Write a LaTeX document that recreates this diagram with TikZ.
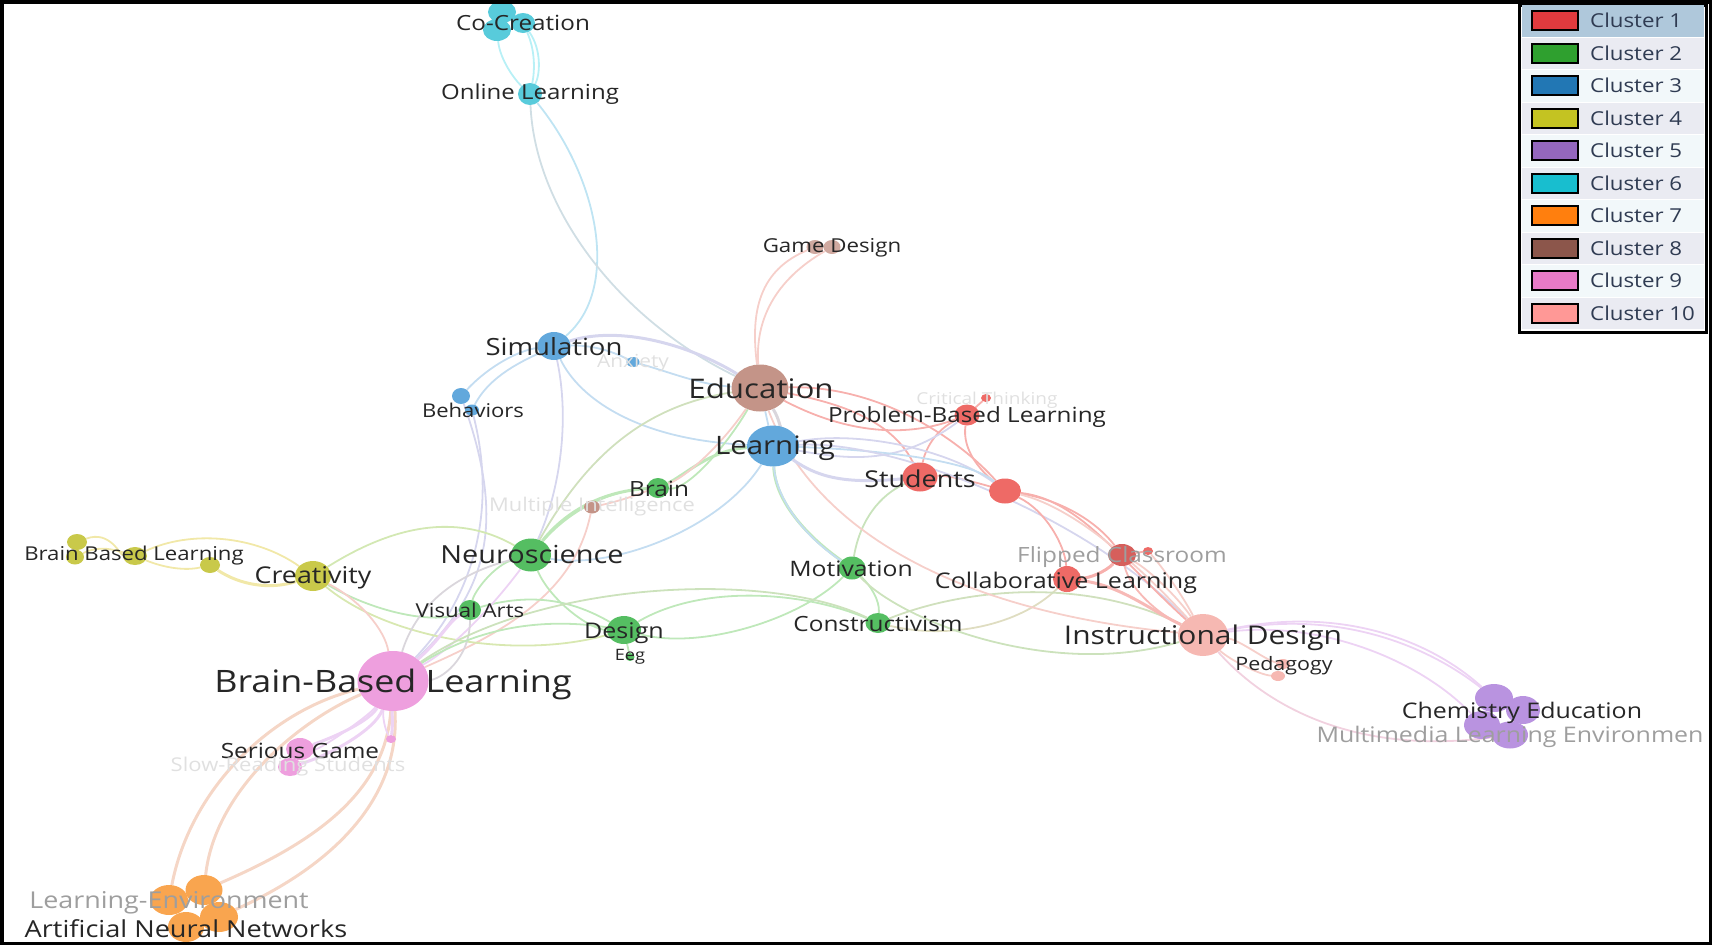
\documentclass[tikz,border=0pt]{standalone}
\usepackage{fontspec}
\setmainfont[FakeStretch=1.16]{Open Sans}
\usetikzlibrary{shapes.geometric}
\usetikzlibrary{backgrounds}
\definecolor{cred}{HTML}{EE6A66}
\definecolor{cgreen}{HTML}{55BE62}
\definecolor{cblue}{HTML}{62A8DC}
\definecolor{cyellow}{HTML}{C9C94A}
\definecolor{cpurple}{HTML}{B993E0}
\definecolor{ccyan}{HTML}{58CBDB}
\definecolor{corange}{HTML}{F9A54F}
\definecolor{cbrown}{HTML}{C49488}
\definecolor{cpink}{HTML}{EE9FDE}
\definecolor{csalmon}{HTML}{F6B8B2}
\definecolor{lpink}{HTML}{F6CFCA}
\definecolor{lred}{HTML}{F7B0AD}
\definecolor{llilac}{HTML}{EDD3F4}
\definecolor{lblue}{HTML}{C4DDF1}
\definecolor{lviolet}{HTML}{D6D6EE}
\definecolor{lcyan}{HTML}{B8F0F6}
\definecolor{lgreen}{HTML}{BFE8BA}
\definecolor{lyellow}{HTML}{F1E8A8}
\definecolor{ltan}{HTML}{E0D8C0}
\definecolor{lgrey}{HTML}{DAD6DC}
\definecolor{lorange}{HTML}{F5D6C6}
\definecolor{legtext}{HTML}{2F3B52}
\newcommand{\vnode}[5]{\node(#1)[vertex,fill=#5,minimum width=#3pt,minimum height=#4pt]at(#2){}}
\newcommand{\slabel}[5][lbl]{\node(#2)[#1,font=\fontsize{#4}{#4}\selectfont]at(#3){#5}}

\begin{document}
\begin{tikzpicture}[
        x=1pt,y=-1pt,
        vertex/.style={ellipse,inner sep=0pt,draw=none},
        lbl/.style={inner sep=0pt,text=black!85},
        lblgrey/.style={inner sep=0pt,text=black!38},
        lblfaint/.style={inner sep=0pt,text=black!12},
        edge/.style={line width=1.8pt},
        fatedge/.style={line width=3pt}
      ]
      \useasboundingbox (0,0) rectangle (1712,945);
      % nodes
      \vnode{co1}{502,12}{28}{22}{ccyan};
      \vnode{co2}{497,30}{28}{22}{ccyan};
      \vnode{co3}{523,23}{24}{20}{ccyan};
      \vnode{online}{530,94}{24}{22}{ccyan};
      \vnode{game1}{815,247}{17}{14}{cbrown!80!white};
      \vnode{game2}{832,247}{17}{14}{cbrown!80!white};
      \vnode{edu}{760,388}{57}{47}{cbrown};
      \vnode{lrn}{773,446}{52}{41}{cblue};
      \vnode{sim}{554,346}{33}{28}{cblue};
      \vnode{anx}{633,362}{13}{10}{cblue};
      \vnode{beh1}{461,396}{18}{16}{cblue};
      \vnode{beh2}{472,410}{14}{11}{cblue};
      \vnode{stud}{920,477}{35}{29}{cred};
      \vnode{redx}{1005,491}{32}{25}{cred};
      \vnode{pbl}{967,415}{25}{21}{cred};
      \vnode{crit}{986,398}{10}{8}{cred};
      \vnode{flip}{1122,555}{28}{22}{cred!90!black};
      \vnode{flipb}{1148,551}{10}{8}{cred};
      \vnode{collab}{1067,579}{28}{26}{cred};
      \vnode{instr}{1203,635}{50}{42}{csalmon};
      \vnode{ped1}{1283,664}{14}{10}{csalmon};
      \vnode{ped2}{1278,676}{14}{10}{csalmon};
      \vnode{chem1}{1494,698}{38}{28}{cpurple};
      \vnode{chem2}{1523,710}{34}{28}{cpurple};
      \vnode{chem3}{1482,725}{36}{28}{cpurple};
      \vnode{chem4}{1510,735}{36}{27}{cpurple};
      \vnode{bb1}{77,542}{20}{16}{cyellow};
      \vnode{bb2}{75,557}{18}{15}{cyellow};
      \vnode{bb3}{135,556}{24}{18}{cyellow};
      \vnode{bb4}{210,565}{20}{16}{cyellow};
      \vnode{creat}{313,576}{36}{30}{cyellow};
      \vnode{neuro}{531,555}{40}{33}{cgreen};
      \vnode{brain}{658,488}{22}{20}{cgreen};
      \vnode{mi}{592,507}{16}{13}{cbrown};
      \vnode{va}{470,610}{22}{20}{cgreen};
      \vnode{design}{624,630}{34}{28}{cgreen};
      \vnode{eeg}{630,657}{9}{8}{cgreen};
      \vnode{motiv}{852,568}{27}{23}{cgreen};
      \vnode{constr}{878,623}{25}{20}{cgreen};
      \vnode{bbl}{393,681}{71}{60}{cpink};
      \vnode{ser1}{300,749}{28}{22}{cpink};
      \vnode{ser2}{290,767}{24}{18}{cpink};
      \vnode{ser3}{391,739}{10}{8}{cpink};
      \vnode{or1}{169,900}{38}{30}{corange};
      \vnode{or2}{204,890}{37}{30}{corange};
      \vnode{or3}{219,917}{38}{30}{corange};
      \vnode{or4}{186,927}{36}{30}{corange};
      % connectors
      \begin{scope}[on background layer]
        \draw[edge,lcyan] (co2) .. controls (500,60) and (515,80) .. (online);
        \draw[edge,lcyan] (co3) .. controls (535,50) and (535,70) .. (online);
        \draw[edge,lcyan] (co3) .. controls (542,50) and (540,75) .. (online);
        \draw[edge,lcyan!40!lblue] (online) .. controls (600,180) and (620,290) .. (sim);
        \draw[edge,lcyan!30!lgrey] (online) .. controls (535,210) and (620,320) .. (edu);
        \draw[fatedge,lviolet] (sim) .. controls (620,325) and (690,345) .. (edu);
        \draw[edge,lblue] (sim) .. controls (580,400) and (640,440) .. (lrn);
        \draw[edge,lviolet] (sim) .. controls (570,420) and (560,490) .. (neuro);
        \draw[edge,lblue] (sim) .. controls (520,350) and (490,365) .. (beh1);
        \draw[edge,lblue] (sim) .. controls (525,360) and (490,375) .. (beh2);
        \draw[edge,lblue] (sim) .. controls (590,345) and (610,350) .. (anx);
        \draw[edge,lblue] (anx) .. controls (670,372) and (700,385) .. (edu);
        \draw[edge,lviolet] (beh1) .. controls (505,520) and (490,590) .. (bbl);
        \draw[edge,lviolet] (beh2) .. controls (495,500) and (480,590) .. (bbl);
        \draw[edge,lblue] (lrn) .. controls (720,530) and (610,570) .. (neuro);
        \draw[edge,lgreen] (neuro) .. controls (570,510) and (610,490) .. (brain);
        \draw[fatedge,lgreen] (neuro) .. controls (575,500) and (620,490) .. (brain);
        \draw[fatedge,lgreen] (brain) .. controls (685,475) and (710,450) .. (lrn);
        \draw[edge,lgreen] (brain) .. controls (690,490) and (730,440) .. (edu);
        \draw[edge,lpink] (brain) .. controls (690,475) and (725,440) .. (edu);
        \draw[edge,lpink] (mi) .. controls (625,500) and (650,490) .. (brain);
        \draw[edge,lpink] (mi) .. controls (575,590) and (510,630) .. (bbl);
        \draw[edge,lgreen!50!ltan] (neuro) .. controls (590,450) and (650,405) .. (edu);
        \draw[edge,lgreen!60!lyellow] (creat) .. controls (410,515) and (470,520) .. (neuro);
        \draw[edge,lgreen!50!lyellow] (creat) .. controls (390,640) and (520,660) .. (design);
        \draw[edge,lgreen] (creat) .. controls (370,610) and (430,625) .. (va);
        \draw[edge,lpink] (creat) .. controls (360,600) and (385,630) .. (bbl);
        \draw[edge,lgreen] (neuro) .. controls (495,565) and (475,590) .. (va);
        \draw[edge,lgreen] (neuro) .. controls (550,600) and (590,630) .. (design);
        \draw[edge,lgreen] (va) .. controls (540,590) and (580,605) .. (design);
        \draw[edge,lgrey] (neuro) .. controls (450,575) and (415,610) .. (bbl);
        \draw[edge,llilac] (neuro) .. controls (490,610) and (450,650) .. (bbl);
        \draw[fatedge,llilac] (va) .. controls (450,620) and (440,640) .. (bbl);
        \draw[edge,lgrey] (va) .. controls (470,660) and (440,680) .. (bbl);
        \draw[edge,lgreen] (design) .. controls (700,650) and (800,620) .. (motiv);
        \draw[edge,lgreen] (design) .. controls (700,585) and (800,590) .. (constr);
        \draw[edge,lgreen!60!ltan] (bbl) .. controls (540,580) and (770,570) .. (constr);
        \draw[edge,lgreen] (bbl) .. controls (490,620) and (560,620) .. (design);
        \draw[edge,lgreen] (design) -- (eeg);
        \draw[edge,lgreen] (motiv) .. controls (870,585) and (880,600) .. (constr);
        \draw[fatedge,lgreen] (lrn) .. controls (775,500) and (805,535) .. (motiv);
        \draw[edge,lblue] (lrn) .. controls (775,490) and (795,530) .. (motiv);
        \draw[edge,lgreen!70!ltan] (stud) .. controls (880,495) and (860,520) .. (motiv);
        \draw[edge,lgreen!40!lorange] (constr) .. controls (950,640) and (1020,625) .. (collab);
        \draw[edge,lgreen!50!ltan] (constr) .. controls (960,590) and (1080,575) .. (instr);
        \draw[edge,lgreen!60!ltan] (motiv) .. controls (900,620) and (1050,680) .. (instr);
        \draw[edge,lpink] (edu) .. controls (750,310) and (760,270) .. (game1);
        \draw[edge,lpink] (edu) .. controls (755,320) and (775,280) .. (game2);
        \draw[edge,lred] (edu) .. controls (840,430) and (900,440) .. (pbl);
        \draw[edge,lred] (edu) .. controls (850,405) and (895,425) .. (stud);
        \draw[edge,lred] (edu) .. controls (880,385) and (960,440) .. (redx);
        \draw[edge,lpink] (edu) .. controls (810,520) and (940,610) .. (instr);
        \draw[fatedge,lgrey] (edu) .. controls (780,420) and (780,430) .. (lrn);
        \draw[edge,lblue] (edu) -- (lrn);
        \draw[edge,lred] (pbl) .. controls (935,430) and (925,450) .. (stud);
        \draw[edge,lviolet] (pbl) .. controls (900,465) and (850,460) .. (lrn);
        \draw[edge,lred] (crit) -- (pbl);
        \draw[edge,lred] (pbl) .. controls (962,450) and (980,470) .. (redx);
        \draw[edge,lred] (stud) .. controls (950,475) and (985,485) .. (redx);
        \draw[fatedge,lviolet] (lrn) .. controls (815,475) and (840,485) .. (stud);
        \draw[edge,lviolet] (lrn) .. controls (860,430) and (950,450) .. (redx);
        \draw[edge,lblue] (lrn) .. controls (880,450) and (970,460) .. (redx);
        \draw[edge,lviolet] (lrn) .. controls (900,440) and (1090,520) .. (instr);
        \draw[edge,lred] (redx) .. controls (1045,510) and (1065,545) .. (collab);
        \draw[edge,lred] (redx) .. controls (1060,500) and (1095,520) .. (flip);
        \draw[edge,lred] (redx) .. controls (1080,500) and (1120,560) .. (instr);
        \draw[edge,lpink] (redx) .. controls (1065,505) and (1125,550) .. (instr);
        \draw[fatedge,lred] (flip) .. controls (1105,572) and (1090,578) .. (collab);
        \draw[edge,lred] (flipb) -- (flip);
        \draw[fatedge,lred!70!lpink] (collab) .. controls (1120,585) and (1150,610) .. (instr);
        \draw[edge,lred!70!lpink] (flip) .. controls (1130,590) and (1160,615) .. (instr);
        \draw[edge,lpink] (flip) .. controls (1150,570) and (1180,600) .. (instr);
        \draw[edge,lpink] (flipb) .. controls (1165,570) and (1185,600) .. (instr);
        \draw[edge,lpink] (instr) .. controls (1240,640) and (1265,660) .. (ped1);
        \draw[edge,lpink] (instr) .. controls (1230,660) and (1260,675) .. (ped2);
        \draw[edge,llilac] (instr) .. controls (1340,605) and (1430,640) .. (chem1);
        \draw[edge,llilac] (instr) .. controls (1330,610) and (1420,640) .. (chem1);
        \draw[edge,llilac] (instr) .. controls (1320,620) and (1420,660) .. (chem3);
        \draw[edge,lpink!50!llilac] (instr) .. controls (1270,710) and (1360,755) .. (chem4);
        \draw[fatedge,lorange] (bbl) .. controls (270,710) and (190,790) .. (or1);
        \draw[fatedge,lorange] (bbl) .. controls (300,720) and (215,790) .. (or2);
        \draw[fatedge,lorange] (bbl) .. controls (385,790) and (320,840) .. (or2);
        \draw[fatedge,lorange] (bbl) .. controls (400,790) and (345,860) .. (or3);
        \draw[fatedge,llilac] (bbl) .. controls (370,720) and (340,735) .. (ser1);
        \draw[edge,llilac] (bbl) .. controls (370,715) and (320,750) .. (ser1);
        \draw[fatedge,llilac] (bbl) .. controls (375,730) and (330,755) .. (ser2);
        \draw[edge,llilac] (bbl) .. controls (382,715) and (385,730) .. (ser3);
        \draw[fatedge,llilac] (bbl) .. controls (392,710) and (393,725) .. (ser3);
        \draw[edge,lyellow] (bb1) .. controls (110,530) and (120,555) .. (bb3);
        \draw[edge,lyellow] (bb2) .. controls (100,545) and (115,550) .. (bb3);
        \draw[edge,lyellow] (bb3) .. controls (190,530) and (255,535) .. (creat);
        \draw[edge,lyellow] (bb3) .. controls (170,570) and (190,570) .. (bb4);
        \draw[fatedge,lyellow] (bb4) .. controls (240,585) and (270,590) .. (creat);
      \end{scope}
      % labels
      \slabel{lco}{523,23}{20.9}{Co-Creation};
      \slabel{lonline}{530,94}{20.7}{Online Learning};
      \slabel{lgame}{832,248}{19.2}{Game Design};
      \slabel{ledu}{761,388}{27}{Education};
      \slabel{llrn}{775,448}{25.4}{Learning};
      \slabel{lsim}{554,347}{23.7}{Simulation};
      \slabel[lblfaint]{lanx}{633,363}{18}{Anxiety};
      \slabel{lbeh}{473,410}{19}{Behaviors};
      \slabel{lstud}{920,479}{23.2}{Students};
      \slabel{lpbl}{967,417}{20.9}{Problem-Based Learning};
      \slabel[lblfaint]{lcrit}{987,400}{16.4}{Critical Thinking};
      \slabel[lblgrey]{lflip}{1122,557}{21}{Flipped Classroom};
      \slabel{lcollab}{1066,583}{21.6}{Collaborative Learning};
      \slabel{linstr}{1203,638}{25.8}{Instructional Design};
      \slabel{lped}{1284,666}{18.5}{Pedagogy};
      \slabel{lchem}{1522,713}{21.5}{Chemistry Education};
      \slabel[lblgrey]{lmm}{1510,737}{21.5}{Multimedia Learning Environmen};
      \slabel{lbb}{134,556}{19.1}{Brain Based Learning};
      \slabel{lcreat}{313,578}{23.1}{Creativity};
      \slabel{lneuro}{532,554}{24.9}{Neuroscience};
      \slabel{lbrain}{659,489}{21}{Brain};
      \slabel[lblfaint]{lmi}{592,507}{18.9}{Multiple Intelligence};
      \slabel{lva}{470,610}{19.2}{Visual Arts};
      \slabel{ldesign}{624,633}{21.6}{Design};
      \slabel{leeg}{630,657}{15.7}{Eeg};
      \slabel{lmotiv}{851,569}{21.3}{Motivation};
      \slabel{lconstr}{878,624}{21}{Constructivism};
      \slabel{lbbl}{393,684}{30.9}{Brain-Based Learning};
      \slabel{lser}{300,751}{21}{Serious Game};
      \slabel[lblfaint]{lslow}{288,767}{19}{Slow-Reading Students};
      \slabel[lblgrey]{lenv}{169,903}{23.2}{Learning-Environment};
      \slabel{lann}{186,929}{23.4}{Artificial Neural Networks};
      % outer frame
      \node(frame)[draw=black,line width=3.5pt,minimum width=1708.5pt,minimum height=941.5pt,inner sep=0pt] at (856,472.5) {};
      % legend
      \node(legend)[draw=black,line width=3pt,fill=white,minimum width=187pt,minimum height=327pt,inner sep=0pt] at (1612.5,168.5) {};
      \foreach \n/\c/\r in {1/E03A3E/AFC8DB,2/2FA02F/EAEBF2,3/2277B4/F2F8FA,4/C4C322/EAEBF2,5/9467BD/F2F8FA,
                            6/18BECF/EAEBF2,7/FF7F0E/F2F8FA,8/8C564B/EAEBF2,9/E87AC7/F2F8FA,10/FF9896/EAEBF2} {
        \definecolor{rowcol}{HTML}{\r}
        \definecolor{swcol}{HTML}{\c}
        \pgfmathsetmacro{\rowy}{20.5+(\n-1)*32.5}
        \node(row\n)[fill=rowcol,minimum width=182pt,minimum height=31.5pt,inner sep=0pt] at (1612.5,\rowy+0.5) {};
        \node(sw\n)[draw=black,line width=2pt,fill=swcol,minimum width=46pt,minimum height=19pt,inner sep=0pt] at (1554.5,\rowy) {};
        \node(cl\n)[right=0pt,inner sep=0pt,text=legtext,font=\fontsize{19.2}{19.2}\selectfont] at (1590,\rowy) {Cluster \n};
      }
    \end{tikzpicture}
\end{document}
